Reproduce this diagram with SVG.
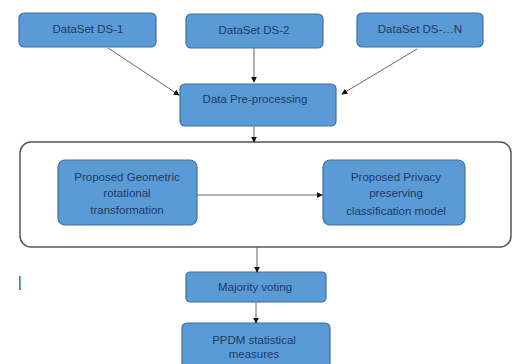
<svg xmlns="http://www.w3.org/2000/svg" width="515" height="364" viewBox="0 0 515 364">
<defs>
<style>
.box{fill:#5b9bd5;stroke:#41719c;stroke-width:1.2}
.lbl{font-family:"Liberation Sans",Arial,sans-serif;font-size:11.5px;fill:#1f3864;text-anchor:middle;dominant-baseline:central}
.con{stroke:#666;stroke-width:1;fill:none;marker-end:url(#ah)}
</style>
<marker id="ah" viewBox="0 0 8 8" refX="7" refY="4" markerWidth="6" markerHeight="6" orient="auto" markerUnits="userSpaceOnUse">
<path d="M0,0 L8,4 L0,8 z" fill="#111"/>
</marker>
</defs>
<rect width="515" height="364" fill="#ffffff"/>
<g id="container">
<rect x="20" y="142" width="491" height="105" rx="11" fill="none" stroke="#555" stroke-width="1.5"/>
</g>
<g id="ds1"><rect class="box" x="19" y="13" width="137" height="34" rx="5"/><text class="lbl" x="88" y="29">DataSet DS-1</text></g>
<g id="ds2"><rect class="box" x="186" y="14" width="137" height="34" rx="5"/><text class="lbl" x="254" y="30">DataSet DS-2</text></g>
<g id="dsn"><rect class="box" x="357" y="13" width="126" height="34" rx="5"/><text class="lbl" x="420" y="29">DataSet DS-…N</text></g>
<g id="prep"><rect class="box" x="180" y="84" width="156" height="42" rx="5"/><text class="lbl" x="255" y="99">Data Pre-processing</text></g>
<g id="geo"><rect class="box" x="58" y="160" width="139" height="65" rx="7"/>
<text class="lbl" x="127" y="177">Proposed Geometric</text>
<text class="lbl" x="127" y="193">rotational</text>
<text class="lbl" x="127" y="210">transformation</text></g>
<g id="ppc"><rect class="box" x="323" y="160" width="142" height="65" rx="7"/>
<text class="lbl" x="396" y="177">Proposed Privacy</text>
<text class="lbl" x="396" y="193">preserving</text>
<text class="lbl" x="396" y="211">classification model</text></g>
<g id="vote"><rect class="box" x="186" y="272" width="140" height="30" rx="4"/><text class="lbl" x="255" y="287">Majority voting</text></g>
<g id="ppdm"><rect class="box" x="182" y="323" width="148" height="45" rx="5"/>
<text class="lbl" x="254" y="340">PPDM statistical</text>
<text class="lbl" x="254" y="354">measures</text></g>
<g id="connectors">
<line class="con" x1="108" y1="48" x2="179" y2="95"/>
<line class="con" x1="254" y1="48" x2="254" y2="82"/>
<line class="con" x1="417" y1="49" x2="342" y2="94"/>
<line class="con" x1="254" y1="126" x2="254" y2="142"/>
<line class="con" x1="197" y1="195" x2="322" y2="195"/>
<line class="con" x1="257" y1="247" x2="257" y2="272"/>
<line class="con" x1="256" y1="302" x2="256" y2="323"/>
</g>
<text x="18" y="287" style="font-family:'Liberation Sans',Arial,sans-serif;font-size:14px;fill:#333">|</text>
</svg>
